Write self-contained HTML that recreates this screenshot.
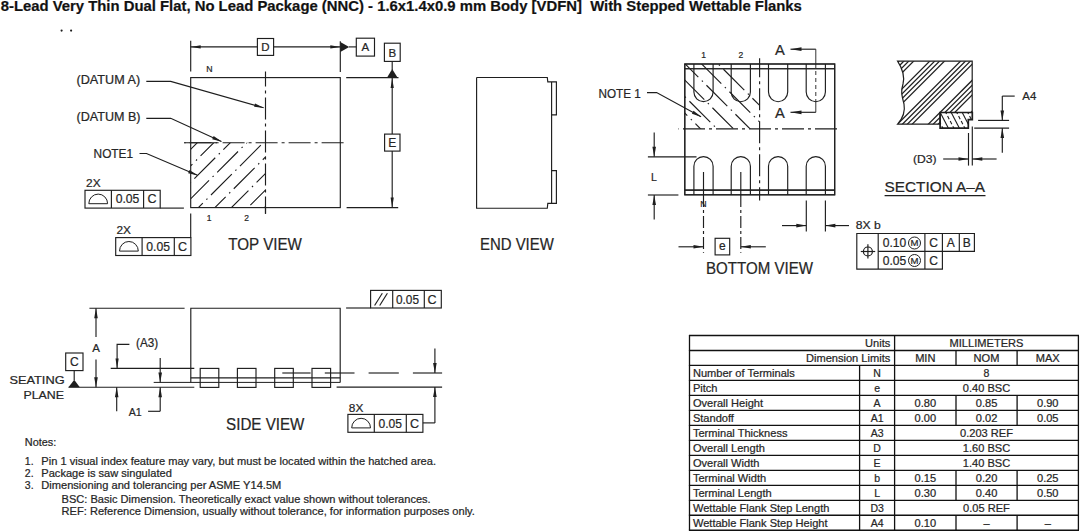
<!DOCTYPE html>
<html><head><meta charset="utf-8"><style>
html,body{margin:0;padding:0;background:#fff;}
svg{display:block;font-family:"Liberation Sans",sans-serif;}
text{stroke:#262626;stroke-width:0.22px;}
</style></head><body>
<svg width="1080" height="531" viewBox="0 0 1080 531">
<rect width="1080" height="531" fill="#fff"/>
<text x="0.7" y="11.1" font-size="14.5" textLength="801.2" lengthAdjust="spacingAndGlyphs" font-weight="bold" fill="#111">8-Lead Very Thin Dual Flat, No Lead Package (NNC) - 1.6x1.4x0.9 mm Body [VDFN]&#160; With Stepped Wettable Flanks</text>
<circle cx="61.6" cy="30.6" r="1.1" fill="#1e1e1e"/><circle cx="71.1" cy="30.6" r="1.1" fill="#1e1e1e"/>
<clipPath id="cTop"><rect x="190.7" y="142.7" width="74.80000000000001" height="64.9"/></clipPath>
<g clip-path="url(#cTop)" stroke="#1e1e1e" stroke-width="1.15" stroke-dasharray="29.5 5 1.5 5"><line x1="89.4" y1="217.6" x2="174.3" y2="132.7" stroke-dashoffset="21.53"/><line x1="105.9" y1="217.6" x2="190.8" y2="132.7" stroke-dashoffset="12.62"/><line x1="122.4" y1="217.6" x2="207.3" y2="132.7" stroke-dashoffset="3.71"/><line x1="138.9" y1="217.6" x2="223.8" y2="132.7" stroke-dashoffset="35.8"/><line x1="155.4" y1="217.6" x2="240.3" y2="132.7" stroke-dashoffset="26.89"/><line x1="171.9" y1="217.6" x2="256.8" y2="132.7" stroke-dashoffset="17.98"/><line x1="188.4" y1="217.6" x2="273.3" y2="132.7" stroke-dashoffset="9.08"/><line x1="204.9" y1="217.6" x2="289.8" y2="132.7" stroke-dashoffset="0.17"/><line x1="221.4" y1="217.6" x2="306.3" y2="132.7" stroke-dashoffset="32.26"/><line x1="237.9" y1="217.6" x2="322.8" y2="132.7" stroke-dashoffset="23.35"/><line x1="254.4" y1="217.6" x2="339.3" y2="132.7" stroke-dashoffset="14.44"/><line x1="270.9" y1="217.6" x2="355.8" y2="132.7" stroke-dashoffset="5.53"/><line x1="287.4" y1="217.6" x2="372.3" y2="132.7" stroke-dashoffset="37.62"/><line x1="303.9" y1="217.6" x2="388.8" y2="132.7" stroke-dashoffset="28.71"/></g>
<rect x="190.7" y="77.6" width="149.6" height="130" fill="none" stroke="#1e1e1e" stroke-width="1.15"/>
<line x1="265.5" y1="71.5" x2="265.5" y2="213.8" stroke="#1e1e1e" stroke-width="1.15" stroke-dasharray="22 4 3 4" stroke-dashoffset="7"/>
<line x1="184.2" y1="142.7" x2="346.6" y2="142.7" stroke="#1e1e1e" stroke-width="1.15" stroke-dasharray="22 4 3 4" stroke-dashoffset="27.6"/>
<line x1="184.2" y1="142.7" x2="217" y2="142.7" stroke="#1e1e1e" stroke-width="1.15"/>
<line x1="190.7" y1="40.7" x2="190.7" y2="71.6" stroke="#1e1e1e" stroke-width="1.15"/>
<line x1="340.3" y1="41.2" x2="340.3" y2="71.9" stroke="#1e1e1e" stroke-width="1.15"/>
<line x1="190.7" y1="46.9" x2="257.4" y2="46.9" stroke="#1e1e1e" stroke-width="1.15"/>
<polygon points="190.7,46.9 200.7,45.3 200.7,48.5" fill="#1e1e1e"/>
<line x1="273.6" y1="46.9" x2="340.3" y2="46.9" stroke="#1e1e1e" stroke-width="1.15"/>
<polygon points="340.3,46.9 330.3,48.5 330.3,45.3" fill="#1e1e1e"/>
<rect x="257.4" y="38.5" width="16.2" height="16.9" fill="none" stroke="#1e1e1e" stroke-width="1.15"/>
<text x="265.5" y="51.3" font-size="11.5" text-anchor="middle" fill="#262626">D</text>
<polygon points="340.3,41.9 349.2,46.9 340.3,51.9" fill="#1e1e1e"/>
<line x1="349" y1="46.9" x2="356.3" y2="46.9" stroke="#1e1e1e" stroke-width="1.15"/>
<rect x="356.3" y="38.2" width="18.2" height="17.9" fill="none" stroke="#1e1e1e" stroke-width="1.15"/>
<text x="365.4" y="51.4" font-size="11.5" text-anchor="middle" fill="#262626">A</text>
<rect x="384.4" y="43.2" width="15.8" height="18.2" fill="none" stroke="#1e1e1e" stroke-width="1.15"/>
<text x="392.3" y="56.6" font-size="11.5" text-anchor="middle" fill="#262626">B</text>
<line x1="392.2" y1="61.4" x2="392.2" y2="70" stroke="#1e1e1e" stroke-width="1.15"/>
<polygon points="387.1,77.6 392.2,68.9 397.5,77.6" fill="#1e1e1e"/>
<line x1="346.2" y1="77.6" x2="398.5" y2="77.6" stroke="#1e1e1e" stroke-width="1.15"/>
<line x1="346.6" y1="207.6" x2="398.2" y2="207.6" stroke="#1e1e1e" stroke-width="1.15"/>
<line x1="392.2" y1="77.6" x2="392.2" y2="134.1" stroke="#1e1e1e" stroke-width="1.15"/>
<polygon points="392.2,78.1 393.8,88.1 390.6,88.1" fill="#1e1e1e"/>
<line x1="392.2" y1="151.1" x2="392.2" y2="207.6" stroke="#1e1e1e" stroke-width="1.15"/>
<polygon points="392.2,207.6 390.6,197.6 393.8,197.6" fill="#1e1e1e"/>
<rect x="384.6" y="134.1" width="15.4" height="17" fill="none" stroke="#1e1e1e" stroke-width="1.15"/>
<text x="392.3" y="147.3" font-size="12" text-anchor="middle" fill="#262626">E</text>
<text x="76.5" y="84.4" font-size="12" textLength="63.6" lengthAdjust="spacingAndGlyphs" fill="#262626">(DATUM A)</text>
<polyline points="146.3,81.4 170.7,81.4 263.6,107.7" fill="none" stroke="#1e1e1e" stroke-width="1.15"/>
<polygon points="264.2,107.9 254.12,106.81 255.04,103.54" fill="#1e1e1e"/>
<text x="76.5" y="121.3" font-size="12" textLength="64" lengthAdjust="spacingAndGlyphs" fill="#262626">(DATUM B)</text>
<polyline points="146.3,118.3 170.7,118.3 221.4,141.5" fill="none" stroke="#1e1e1e" stroke-width="1.15"/>
<polygon points="222,141.8 212.2,139.18 213.62,136.09" fill="#1e1e1e"/>
<text x="93.6" y="157.6" font-size="12" textLength="39.5" lengthAdjust="spacingAndGlyphs" fill="#262626">NOTE1</text>
<polyline points="139.5,153.5 146.5,153.5 197.5,175.3" fill="none" stroke="#1e1e1e" stroke-width="1.15"/>
<polygon points="198,175.5 188.14,173.13 189.47,170.01" fill="#1e1e1e"/>
<text x="206.2" y="71.8" font-size="8.5" textLength="6.3" lengthAdjust="spacingAndGlyphs" fill="#262626">N</text>
<text x="209.2" y="220.6" font-size="8.5" text-anchor="middle" fill="#262626">1</text>
<text x="246.6" y="220.6" font-size="8.5" text-anchor="middle" fill="#262626">2</text>
<line x1="190.7" y1="213.5" x2="190.7" y2="237.6" stroke="#1e1e1e" stroke-width="1.15"/>
<line x1="265.5" y1="207.6" x2="265.5" y2="213.8" stroke="#1e1e1e" stroke-width="1.15"/>
<rect x="85" y="190.3" width="75.2" height="17.8" fill="none" stroke="#1e1e1e" stroke-width="1.15"/>
<line x1="111.4" y1="190.3" x2="111.4" y2="208.1" stroke="#1e1e1e" stroke-width="1.15"/>
<line x1="143.6" y1="190.3" x2="143.6" y2="208.1" stroke="#1e1e1e" stroke-width="1.15"/>
<path d="M88.8,203.7 A9.4,9.6 0 0 1 107.6,203.7 Z" fill="none" stroke="#1e1e1e" stroke-width="1"/>
<text x="127.5" y="203.4" font-size="12.5" text-anchor="middle" textLength="23.7" lengthAdjust="spacingAndGlyphs" fill="#262626">0.05</text>
<text x="151.9" y="203.4" font-size="12.5" text-anchor="middle" fill="#262626">C</text>
<text x="86.1" y="187.2" font-size="11.5" textLength="14.5" lengthAdjust="spacingAndGlyphs" fill="#262626">2X</text>
<line x1="160.2" y1="208.1" x2="183.9" y2="208.1" stroke="#1e1e1e" stroke-width="1.15"/>
<rect x="115.7" y="237.6" width="75.2" height="17.9" fill="none" stroke="#1e1e1e" stroke-width="1.15"/>
<line x1="142.1" y1="237.6" x2="142.1" y2="255.5" stroke="#1e1e1e" stroke-width="1.15"/>
<line x1="174.3" y1="237.6" x2="174.3" y2="255.5" stroke="#1e1e1e" stroke-width="1.15"/>
<path d="M119.5,251.1 A9.4,9.6 0 0 1 138.3,251.1 Z" fill="none" stroke="#1e1e1e" stroke-width="1"/>
<text x="158.2" y="250.8" font-size="12.5" text-anchor="middle" textLength="23.7" lengthAdjust="spacingAndGlyphs" fill="#262626">0.05</text>
<text x="182.6" y="250.8" font-size="12.5" text-anchor="middle" fill="#262626">C</text>
<text x="116.5" y="234.4" font-size="11.5" textLength="14.5" lengthAdjust="spacingAndGlyphs" fill="#262626">2X</text>
<text x="228.3" y="249.9" font-size="16" textLength="73.6" lengthAdjust="spacingAndGlyphs" fill="#262626">TOP VIEW</text>
<polyline points="476.6,77.5 547.3,77.5 547.8,81.9 556.4,81.9 556.4,114.8 551.6,114.8" fill="none" stroke="#1e1e1e" stroke-width="1.15"/>
<polyline points="551.6,170.6 556.4,170.6 556.4,203.4 547.8,203.4 547.3,208.2 476.6,208.2 476.6,77.5" fill="none" stroke="#1e1e1e" stroke-width="1.15"/>
<line x1="551.6" y1="81.9" x2="551.6" y2="203.4" stroke="#1e1e1e" stroke-width="1.15"/>
<text x="480" y="249.9" font-size="16" textLength="73.8" lengthAdjust="spacingAndGlyphs" fill="#262626">END VIEW</text>
<clipPath id="cBot"><rect x="684.8" y="64.0" width="74.80000000000007" height="64.80000000000001"/></clipPath>
<g clip-path="url(#cBot)" stroke="#1e1e1e" stroke-width="1.15" stroke-dasharray="29.5 5 1.5 5"><line x1="493.7" y1="54" x2="578.5" y2="138.8" stroke-dashoffset="15.95"/><line x1="510.2" y1="54" x2="595" y2="138.8" stroke-dashoffset="6.76"/><line x1="526.7" y1="54" x2="611.5" y2="138.8" stroke-dashoffset="38.56"/><line x1="543.2" y1="54" x2="628" y2="138.8" stroke-dashoffset="29.37"/><line x1="559.7" y1="54" x2="644.5" y2="138.8" stroke-dashoffset="20.18"/><line x1="576.2" y1="54" x2="661" y2="138.8" stroke-dashoffset="10.99"/><line x1="592.7" y1="54" x2="677.5" y2="138.8" stroke-dashoffset="1.79"/><line x1="609.2" y1="54" x2="694" y2="138.8" stroke-dashoffset="33.6"/><line x1="625.7" y1="54" x2="710.5" y2="138.8" stroke-dashoffset="24.41"/><line x1="642.2" y1="54" x2="727" y2="138.8" stroke-dashoffset="15.22"/><line x1="658.7" y1="54" x2="743.5" y2="138.8" stroke-dashoffset="6.02"/><line x1="675.2" y1="54" x2="760" y2="138.8" stroke-dashoffset="37.83"/><line x1="691.7" y1="54" x2="776.5" y2="138.8" stroke-dashoffset="28.64"/><line x1="708.2" y1="54" x2="793" y2="138.8" stroke-dashoffset="19.45"/></g>
<rect x="684.8" y="64" width="149.9" height="130.8" fill="none" stroke="#1e1e1e" stroke-width="1.15"/>
<line x1="684.8" y1="68.7" x2="834.7" y2="68.7" stroke="#1e1e1e" stroke-width="1.15"/>
<line x1="684.8" y1="190.1" x2="834.7" y2="190.1" stroke="#1e1e1e" stroke-width="1.15"/>
<path d="M693.9,64 V92.1 A9.6,9.6 0 0 0 713.1,92.1 V64" fill="none" stroke="#1e1e1e" stroke-width="1.15"/>
<path d="M693.9,194.8 V166.2 A9.6,9.6 0 0 1 713.1,166.2 V194.8" fill="none" stroke="#1e1e1e" stroke-width="1.15"/>
<path d="M731.2,64 V92.1 A9.6,9.6 0 0 0 750.4,92.1 V64" fill="none" stroke="#1e1e1e" stroke-width="1.15"/>
<path d="M731.2,194.8 V166.2 A9.6,9.6 0 0 1 750.4,166.2 V194.8" fill="none" stroke="#1e1e1e" stroke-width="1.15"/>
<path d="M768.5,64 V92.1 A9.6,9.6 0 0 0 787.7,92.1 V64" fill="none" stroke="#1e1e1e" stroke-width="1.15"/>
<path d="M768.5,194.8 V166.2 A9.6,9.6 0 0 1 787.7,166.2 V194.8" fill="none" stroke="#1e1e1e" stroke-width="1.15"/>
<path d="M806.2,64 V92.1 A9.6,9.6 0 0 0 825.4,92.1 V64" fill="none" stroke="#1e1e1e" stroke-width="1.15"/>
<path d="M806.2,194.8 V166.2 A9.6,9.6 0 0 1 825.4,166.2 V194.8" fill="none" stroke="#1e1e1e" stroke-width="1.15"/>
<line x1="684.8" y1="68.7" x2="834.7" y2="68.7" stroke="#1e1e1e" stroke-width="1.15"/>
<line x1="684.8" y1="190.1" x2="834.7" y2="190.1" stroke="#1e1e1e" stroke-width="1.15"/>
<rect x="684.8" y="64" width="149.9" height="130.8" fill="none" stroke="#1e1e1e" stroke-width="1.15"/>
<line x1="759.6" y1="58.2" x2="759.6" y2="200.4" stroke="#1e1e1e" stroke-width="1.15" stroke-dasharray="22 4 3 4" stroke-dashoffset="3"/>
<line x1="678.5" y1="128.8" x2="840.8" y2="128.8" stroke="#1e1e1e" stroke-width="1.15" stroke-dasharray="22 4 3 4" stroke-dashoffset="28.5"/>
<text x="703.5" y="58.2" font-size="8.5" text-anchor="middle" fill="#262626">1</text>
<text x="740.8" y="58.2" font-size="8.5" text-anchor="middle" fill="#262626">2</text>
<line x1="815.8" y1="49.2" x2="815.8" y2="64" stroke="#1e1e1e" stroke-width="0.9"/>
<line x1="815.8" y1="64" x2="815.8" y2="101" stroke="#1e1e1e" stroke-width="0.9" stroke-dasharray="4 3" stroke-dashoffset="0"/>
<line x1="815.8" y1="101" x2="815.8" y2="112.3" stroke="#1e1e1e" stroke-width="0.9"/>
<line x1="815.8" y1="49.2" x2="790.5" y2="49.2" stroke="#1e1e1e" stroke-width="1.15"/>
<polygon points="790.5,49.2 801.5,47.3 801.5,51.1" fill="#1e1e1e"/>
<line x1="815.8" y1="112.3" x2="790.5" y2="112.3" stroke="#1e1e1e" stroke-width="1.15"/>
<polygon points="790.5,112.3 801.5,110.4 801.5,114.2" fill="#1e1e1e"/>
<text x="779.8" y="55.4" font-size="14.7" text-anchor="middle" fill="#262626">A</text>
<text x="779.8" y="117.5" font-size="14.7" text-anchor="middle" fill="#262626">A</text>
<text x="598.5" y="97.5" font-size="12.3" textLength="42.3" lengthAdjust="spacingAndGlyphs" fill="#262626">NOTE 1</text>
<polyline points="647,92.6 656.6,92.6 701,116.8" fill="none" stroke="#1e1e1e" stroke-width="1.15"/>
<polygon points="701.5,117.1 691.91,113.8 693.54,110.82" fill="#1e1e1e"/>
<line x1="647.9" y1="156.8" x2="696.5" y2="156.8" stroke="#1e1e1e" stroke-width="1.15"/>
<line x1="647.9" y1="195" x2="678.4" y2="195" stroke="#1e1e1e" stroke-width="1.15"/>
<line x1="654.2" y1="132.5" x2="654.2" y2="156.8" stroke="#1e1e1e" stroke-width="1.15"/>
<polygon points="654.2,156.8 652.4,146.8 656,146.8" fill="#1e1e1e"/>
<line x1="654.2" y1="219.6" x2="654.2" y2="195" stroke="#1e1e1e" stroke-width="1.15"/>
<polygon points="654.2,195 656,205 652.4,205" fill="#1e1e1e"/>
<text x="654" y="180.5" font-size="10.5" text-anchor="middle" fill="#262626">L</text>
<line x1="703.5" y1="172" x2="703.5" y2="195" stroke="#1e1e1e" stroke-width="1.15"/>
<line x1="703.5" y1="195" x2="703.5" y2="252.7" stroke="#1e1e1e" stroke-width="1.15" stroke-dasharray="12 3 3 3" stroke-dashoffset="0"/>
<line x1="740.8" y1="172" x2="740.8" y2="195" stroke="#1e1e1e" stroke-width="1.15"/>
<line x1="740.8" y1="195" x2="740.8" y2="252.7" stroke="#1e1e1e" stroke-width="1.15" stroke-dasharray="12 3 3 3" stroke-dashoffset="0"/>
<text x="703.5" y="207.2" font-size="8.5" text-anchor="middle" textLength="6.3" lengthAdjust="spacingAndGlyphs" fill="#262626">N</text>
<line x1="678.5" y1="246.8" x2="703.5" y2="246.8" stroke="#1e1e1e" stroke-width="1.15"/>
<polygon points="703.5,246.8 693.5,248.6 693.5,245" fill="#1e1e1e"/>
<line x1="765.8" y1="246.8" x2="740.8" y2="246.8" stroke="#1e1e1e" stroke-width="1.15"/>
<polygon points="740.8,246.8 750.8,245 750.8,248.6" fill="#1e1e1e"/>
<rect x="715.1" y="238.3" width="14.6" height="16.6" fill="none" stroke="#1e1e1e" stroke-width="1.15"/>
<text x="722.4" y="250.3" font-size="12" text-anchor="middle" fill="#262626">e</text>
<line x1="806.3" y1="200.4" x2="806.3" y2="231.5" stroke="#1e1e1e" stroke-width="1.15"/>
<line x1="825.4" y1="200.4" x2="825.4" y2="231.5" stroke="#1e1e1e" stroke-width="1.15"/>
<line x1="782" y1="225.6" x2="806.3" y2="225.6" stroke="#1e1e1e" stroke-width="1.15"/>
<polygon points="806.3,225.6 796.3,227.4 796.3,223.8" fill="#1e1e1e"/>
<line x1="849" y1="225.6" x2="825.4" y2="225.6" stroke="#1e1e1e" stroke-width="1.15"/>
<polygon points="825.4,225.6 835.4,223.8 835.4,227.4" fill="#1e1e1e"/>
<text x="855.8" y="229" font-size="11.5" textLength="25" lengthAdjust="spacingAndGlyphs" fill="#262626">8X b</text>
<polygon points="856.8,233.5 974.4,233.5 974.4,251.4 942.4,251.4 942.4,269.1 856.8,269.1" fill="none" stroke="#1e1e1e" stroke-width="1.15"/>
<line x1="878.2" y1="251.4" x2="942.4" y2="251.4" stroke="#1e1e1e" stroke-width="1.15"/>
<line x1="878.2" y1="233.5" x2="878.2" y2="269.1" stroke="#1e1e1e" stroke-width="1.15"/>
<line x1="924.9" y1="233.5" x2="924.9" y2="251.4" stroke="#1e1e1e" stroke-width="1.15"/>
<line x1="942.4" y1="233.5" x2="942.4" y2="251.4" stroke="#1e1e1e" stroke-width="1.15"/>
<line x1="959.3" y1="233.5" x2="959.3" y2="251.4" stroke="#1e1e1e" stroke-width="1.15"/>
<line x1="924.9" y1="251.4" x2="924.9" y2="269.1" stroke="#1e1e1e" stroke-width="1.15"/>
<circle cx="867.9" cy="251.5" r="4.5" fill="none" stroke="#1e1e1e" stroke-width="1.2"/>
<line x1="860.8" y1="251.5" x2="875.2" y2="251.5" stroke="#1e1e1e" stroke-width="1.2"/>
<line x1="867.9" y1="244.3" x2="867.9" y2="258.4" stroke="#1e1e1e" stroke-width="1.2"/>
<text x="882.7" y="247" font-size="12" textLength="23.5" lengthAdjust="spacingAndGlyphs" fill="#262626">0.10</text>
<circle cx="914.5" cy="243" r="6.0" fill="none" stroke="#1e1e1e" stroke-width="1.0"/>
<text x="914.5" y="246.4" font-size="9.8" text-anchor="middle" textLength="8" lengthAdjust="spacingAndGlyphs" fill="#262626">M</text>
<text x="933.6" y="247" font-size="12" text-anchor="middle" fill="#262626">C</text>
<text x="882.7" y="264.5" font-size="12" textLength="23.5" lengthAdjust="spacingAndGlyphs" fill="#262626">0.05</text>
<circle cx="914.5" cy="260.5" r="6.0" fill="none" stroke="#1e1e1e" stroke-width="1.0"/>
<text x="914.5" y="263.9" font-size="9.8" text-anchor="middle" textLength="8" lengthAdjust="spacingAndGlyphs" fill="#262626">M</text>
<text x="933.6" y="264.5" font-size="12" text-anchor="middle" fill="#262626">C</text>
<text x="950.8" y="247" font-size="12" text-anchor="middle" fill="#262626">A</text>
<text x="966.8" y="247" font-size="12" text-anchor="middle" fill="#262626">B</text>
<text x="706" y="273.7" font-size="16" textLength="107" lengthAdjust="spacingAndGlyphs" fill="#262626">BOTTOM VIEW</text>
<clipPath id="cSec"><path d="M897.6,61.2 H972.2 V112.5 H940.1 V124.2 H897.6 C903,118 905.5,112 904,104 C902,96 900.5,92 903,84 C905,76 902,68 897.6,61.2 Z"/></clipPath>
<g clip-path="url(#cSec)" stroke="#1e1e1e" stroke-width="1.25"><line x1="768.5" y1="130" x2="843.5" y2="55"/><line x1="773.4" y1="130" x2="848.4" y2="55"/><line x1="778.3" y1="130" x2="853.3" y2="55"/><line x1="783.2" y1="130" x2="858.2" y2="55"/><line x1="799.3" y1="130" x2="874.3" y2="55"/><line x1="804.2" y1="130" x2="879.2" y2="55"/><line x1="809.1" y1="130" x2="884.1" y2="55"/><line x1="814" y1="130" x2="889" y2="55"/><line x1="830.1" y1="130" x2="905.1" y2="55"/><line x1="835" y1="130" x2="910" y2="55"/><line x1="839.9" y1="130" x2="914.9" y2="55"/><line x1="844.8" y1="130" x2="919.8" y2="55"/><line x1="860.9" y1="130" x2="935.9" y2="55"/><line x1="865.8" y1="130" x2="940.8" y2="55"/><line x1="870.7" y1="130" x2="945.7" y2="55"/><line x1="875.6" y1="130" x2="950.6" y2="55"/><line x1="891.7" y1="130" x2="966.7" y2="55"/><line x1="896.6" y1="130" x2="971.6" y2="55"/><line x1="901.5" y1="130" x2="976.5" y2="55"/><line x1="906.4" y1="130" x2="981.4" y2="55"/><line x1="922.5" y1="130" x2="997.5" y2="55"/><line x1="927.4" y1="130" x2="1002.4" y2="55"/><line x1="932.3" y1="130" x2="1007.3" y2="55"/><line x1="937.2" y1="130" x2="1012.2" y2="55"/><line x1="953.3" y1="130" x2="1028.3" y2="55"/><line x1="958.2" y1="130" x2="1033.2" y2="55"/><line x1="963.1" y1="130" x2="1038.1" y2="55"/><line x1="968" y1="130" x2="1043" y2="55"/><line x1="984.1" y1="130" x2="1059.1" y2="55"/><line x1="989" y1="130" x2="1064" y2="55"/><line x1="993.9" y1="130" x2="1068.9" y2="55"/><line x1="998.8" y1="130" x2="1073.8" y2="55"/><line x1="1014.9" y1="130" x2="1089.9" y2="55"/><line x1="1019.8" y1="130" x2="1094.8" y2="55"/><line x1="1024.7" y1="130" x2="1099.7" y2="55"/><line x1="1029.6" y1="130" x2="1104.6" y2="55"/></g>
<path d="M897.6,61.2 H972.2 V112.5 H940.1 V124.2 H897.6 C903,118 905.5,112 904,104 C902,96 900.5,92 903,84 C905,76 902,68 897.6,61.2 Z" fill="none" stroke="#1e1e1e" stroke-width="1.2"/>
<clipPath id="cLead"><path d="M940.1,112.5 H972.3 V119.6 H968.3 V128.2 H940.1 Z"/></clipPath>
<g clip-path="url(#cLead)" stroke="#1e1e1e" stroke-width="1.1"><line x1="922.96" y1="111" x2="933.33" y2="131" stroke-dasharray="3.5 2.2"/><line x1="928.46" y1="111" x2="938.83" y2="131"/><line x1="933.96" y1="111" x2="944.33" y2="131" stroke-dasharray="3.5 2.2"/><line x1="939.46" y1="111" x2="949.83" y2="131"/><line x1="944.96" y1="111" x2="955.33" y2="131" stroke-dasharray="3.5 2.2"/><line x1="950.46" y1="111" x2="960.83" y2="131"/><line x1="955.96" y1="111" x2="966.33" y2="131" stroke-dasharray="3.5 2.2"/><line x1="961.46" y1="111" x2="971.83" y2="131"/><line x1="966.96" y1="111" x2="977.33" y2="131" stroke-dasharray="3.5 2.2"/><line x1="972.46" y1="111" x2="982.83" y2="131"/><line x1="977.96" y1="111" x2="988.33" y2="131" stroke-dasharray="3.5 2.2"/><line x1="983.46" y1="111" x2="993.83" y2="131"/></g>
<path d="M940.1,112.5 H972.3 V119.6 H968.3 V128.2 H940.1 Z" fill="none" stroke="#1e1e1e" stroke-width="1.7"/>
<line x1="978.1" y1="120.4" x2="1009.1" y2="120.4" stroke="#1e1e1e" stroke-width="1.15"/>
<line x1="974.2" y1="128.1" x2="1009.1" y2="128.1" stroke="#1e1e1e" stroke-width="1.15"/>
<line x1="1002.3" y1="96.1" x2="1002.3" y2="120.4" stroke="#1e1e1e" stroke-width="1.15"/>
<polygon points="1002.3,120.4 1000.5,110.4 1004.1,110.4" fill="#1e1e1e"/>
<line x1="1002.3" y1="152.7" x2="1002.3" y2="128.1" stroke="#1e1e1e" stroke-width="1.15"/>
<polygon points="1002.3,128.1 1004.1,138.1 1000.5,138.1" fill="#1e1e1e"/>
<line x1="1002.3" y1="96.1" x2="1014.7" y2="96.1" stroke="#1e1e1e" stroke-width="1.15"/>
<text x="1022.3" y="100.4" font-size="11" textLength="14" lengthAdjust="spacingAndGlyphs" fill="#262626">A4</text>
<line x1="968.5" y1="133" x2="968.5" y2="165.6" stroke="#1e1e1e" stroke-width="1.15"/>
<line x1="972.3" y1="126.4" x2="972.3" y2="165.6" stroke="#1e1e1e" stroke-width="1.15"/>
<line x1="943.2" y1="159" x2="968.5" y2="159" stroke="#1e1e1e" stroke-width="1.15"/>
<polygon points="968.5,159 958.5,160.8 958.5,157.2" fill="#1e1e1e"/>
<line x1="996.6" y1="159" x2="972.3" y2="159" stroke="#1e1e1e" stroke-width="1.15"/>
<polygon points="972.3,159 982.3,157.2 982.3,160.8" fill="#1e1e1e"/>
<text x="913" y="163" font-size="11.5" textLength="23.6" lengthAdjust="spacingAndGlyphs" fill="#262626">(D3)</text>
<text x="884.6" y="192" font-size="14" textLength="100.5" lengthAdjust="spacingAndGlyphs" fill="#262626">SECTION A&#8211;A</text>
<line x1="884.6" y1="195.6" x2="985.5" y2="195.6" stroke="#1e1e1e" stroke-width="1.2"/>
<polyline points="190.8,382.4 190.8,308.2 340.2,308.2 340.2,382.4" fill="none" stroke="#1e1e1e" stroke-width="1.15"/>
<line x1="190.8" y1="377.9" x2="340.2" y2="377.9" stroke="#1e1e1e" stroke-width="1.15"/>
<line x1="153.7" y1="382.4" x2="340.2" y2="382.4" stroke="#1e1e1e" stroke-width="1.0"/>
<rect x="200.2" y="368.4" width="18.6" height="19" fill="none" stroke="#1e1e1e" stroke-width="1.15"/>
<rect x="237.4" y="368.4" width="18.6" height="19" fill="none" stroke="#1e1e1e" stroke-width="1.15"/>
<rect x="274.7" y="368.4" width="18.6" height="19" fill="none" stroke="#1e1e1e" stroke-width="1.15"/>
<rect x="312" y="368.4" width="18.6" height="19" fill="none" stroke="#1e1e1e" stroke-width="1.15"/>
<line x1="282.3" y1="373" x2="310.6" y2="373" stroke="#1e1e1e" stroke-width="1.15"/>
<line x1="324.8" y1="373" x2="354.5" y2="373" stroke="#1e1e1e" stroke-width="1.15"/>
<line x1="368.6" y1="373" x2="398.8" y2="373" stroke="#1e1e1e" stroke-width="1.15"/>
<line x1="412.9" y1="373" x2="442.1" y2="373" stroke="#1e1e1e" stroke-width="1.15"/>
<line x1="110.7" y1="368.4" x2="194.3" y2="368.4" stroke="#1e1e1e" stroke-width="1.15"/>
<line x1="68.5" y1="387.3" x2="194.3" y2="387.3" stroke="#1e1e1e" stroke-width="1.1"/>
<line x1="89.4" y1="308.2" x2="184.6" y2="308.2" stroke="#1e1e1e" stroke-width="1.15"/>
<line x1="96" y1="337" x2="96" y2="308.2" stroke="#1e1e1e" stroke-width="1.15"/>
<polygon points="96,308.2 97.8,318.2 94.2,318.2" fill="#1e1e1e"/>
<line x1="96" y1="359.4" x2="96" y2="387.3" stroke="#1e1e1e" stroke-width="1.15"/>
<polygon points="96,387.3 94.2,377.3 97.8,377.3" fill="#1e1e1e"/>
<text x="96" y="351.5" font-size="11.5" text-anchor="middle" fill="#262626">A</text>
<text x="136.1" y="346.8" font-size="12" textLength="22.1" lengthAdjust="spacingAndGlyphs" fill="#262626">(A3)</text>
<polyline points="129.4,344.4 117.1,344.4 117.1,368.4" fill="none" stroke="#1e1e1e" stroke-width="1.15"/>
<polygon points="117.1,368.4 115.5,358.4 118.7,358.4" fill="#1e1e1e"/>
<line x1="160.2" y1="358.1" x2="160.2" y2="382.4" stroke="#1e1e1e" stroke-width="1.15"/>
<polygon points="160.2,382.4 158.4,372.4 162,372.4" fill="#1e1e1e"/>
<line x1="116.7" y1="411.3" x2="116.7" y2="387.3" stroke="#1e1e1e" stroke-width="1.15"/>
<polygon points="116.7,387.3 118.5,397.3 114.9,397.3" fill="#1e1e1e"/>
<line x1="160.2" y1="411.3" x2="160.2" y2="387.3" stroke="#1e1e1e" stroke-width="1.15"/>
<polygon points="160.2,387.3 162,397.3 158.4,397.3" fill="#1e1e1e"/>
<line x1="148.1" y1="411.3" x2="160.2" y2="411.3" stroke="#1e1e1e" stroke-width="1.15"/>
<text x="128.7" y="416" font-size="11.5" textLength="13" lengthAdjust="spacingAndGlyphs" fill="#262626">A1</text>
<rect x="65.7" y="353" width="17.3" height="17.6" fill="none" stroke="#1e1e1e" stroke-width="1.15"/>
<text x="74.35" y="366" font-size="12" text-anchor="middle" fill="#262626">C</text>
<line x1="74.2" y1="370.6" x2="74.2" y2="380" stroke="#1e1e1e" stroke-width="1.15"/>
<polygon points="68.5,387.3 74.2,379.8 79.8,387.3" fill="#1e1e1e"/>
<text x="9.4" y="384.4" font-size="11.5" textLength="55.2" lengthAdjust="spacingAndGlyphs" fill="#262626">SEATING</text>
<text x="23.4" y="398.9" font-size="11.5" textLength="40.6" lengthAdjust="spacingAndGlyphs" fill="#262626">PLANE</text>
<rect x="370.6" y="290.4" width="70.7" height="17.6" fill="none" stroke="#1e1e1e" stroke-width="1.15"/>
<line x1="392.7" y1="290.4" x2="392.7" y2="308" stroke="#1e1e1e" stroke-width="1.15"/>
<line x1="424.3" y1="290.4" x2="424.3" y2="308" stroke="#1e1e1e" stroke-width="1.15"/>
<line x1="374.6" y1="305.5" x2="382.3" y2="293.2" stroke="#1e1e1e" stroke-width="1.15"/>
<line x1="379.7" y1="305.5" x2="387.4" y2="293.2" stroke="#1e1e1e" stroke-width="1.15"/>
<text x="396" y="303.6" font-size="12.5" textLength="23" lengthAdjust="spacingAndGlyphs" fill="#262626">0.05</text>
<text x="432" y="303.6" font-size="12.5" text-anchor="middle" fill="#262626">C</text>
<line x1="346.1" y1="308" x2="370.6" y2="308" stroke="#1e1e1e" stroke-width="1.15"/>
<line x1="336.6" y1="387.1" x2="442.1" y2="387.1" stroke="#1e1e1e" stroke-width="1.15"/>
<line x1="434.9" y1="348.5" x2="434.9" y2="373" stroke="#1e1e1e" stroke-width="1.15"/>
<polygon points="434.9,373 433.1,363 436.7,363" fill="#1e1e1e"/>
<line x1="434.9" y1="422.9" x2="434.9" y2="387.1" stroke="#1e1e1e" stroke-width="1.15"/>
<polygon points="434.9,387.1 436.7,397.1 433.1,397.1" fill="#1e1e1e"/>
<line x1="422.9" y1="422.9" x2="434.9" y2="422.9" stroke="#1e1e1e" stroke-width="1.15"/>
<rect x="347.9" y="414.4" width="75" height="17.9" fill="none" stroke="#1e1e1e" stroke-width="1.15"/>
<line x1="374.3" y1="414.4" x2="374.3" y2="432.3" stroke="#1e1e1e" stroke-width="1.15"/>
<line x1="406.3" y1="414.4" x2="406.3" y2="432.3" stroke="#1e1e1e" stroke-width="1.15"/>
<path d="M351.7,427.9 A9.4,9.6 0 0 1 370.5,427.9 Z" fill="none" stroke="#1e1e1e" stroke-width="1"/>
<text x="390.3" y="427.6" font-size="12.5" text-anchor="middle" textLength="23.5" lengthAdjust="spacingAndGlyphs" fill="#262626">0.05</text>
<text x="414.6" y="427.6" font-size="12.5" text-anchor="middle" fill="#262626">C</text>
<text x="348.8" y="411.6" font-size="11.5" textLength="14.5" lengthAdjust="spacingAndGlyphs" fill="#262626">8X</text>
<text x="226.1" y="429.9" font-size="16" textLength="78.3" lengthAdjust="spacingAndGlyphs" fill="#262626">SIDE VIEW</text>
<text x="24.8" y="446.4" font-size="10.5" textLength="31.5" lengthAdjust="spacingAndGlyphs" fill="#262626">Notes:</text>
<text x="24.8" y="464.7" font-size="10.5" fill="#262626">1.</text>
<text x="41.3" y="464.7" font-size="10.5" textLength="394.7" lengthAdjust="spacingAndGlyphs" fill="#262626">Pin 1 visual index feature may vary, but must be located within the hatched area.</text>
<text x="24.8" y="476.9" font-size="10.5" fill="#262626">2.</text>
<text x="41.3" y="476.9" font-size="10.5" textLength="130.5" lengthAdjust="spacingAndGlyphs" fill="#262626">Package is saw singulated</text>
<text x="24.8" y="489.3" font-size="10.5" fill="#262626">3.</text>
<text x="41.3" y="489.3" font-size="10.5" textLength="240" lengthAdjust="spacingAndGlyphs" fill="#262626">Dimensioning and tolerancing per ASME Y14.5M</text>
<text x="61.6" y="502.5" font-size="10.5" textLength="369.1" lengthAdjust="spacingAndGlyphs" fill="#262626">BSC: Basic Dimension. Theoretically exact value shown without tolerances.</text>
<text x="61.6" y="514.7" font-size="10.5" textLength="413.3" lengthAdjust="spacingAndGlyphs" fill="#262626">REF: Reference Dimension, usually without tolerance, for information purposes only.</text>
<line x1="688.9" y1="335.5" x2="1079" y2="335.5" stroke="#111" stroke-width="1.3"/>
<line x1="688.9" y1="350.48" x2="1079" y2="350.48" stroke="#111" stroke-width="1.3"/>
<line x1="688.9" y1="365.46" x2="1079" y2="365.46" stroke="#111" stroke-width="1.3"/>
<line x1="688.9" y1="380.44" x2="1079" y2="380.44" stroke="#111" stroke-width="1.3"/>
<line x1="688.9" y1="395.42" x2="1079" y2="395.42" stroke="#111" stroke-width="1.3"/>
<line x1="688.9" y1="410.4" x2="1079" y2="410.4" stroke="#111" stroke-width="1.3"/>
<line x1="688.9" y1="425.38" x2="1079" y2="425.38" stroke="#111" stroke-width="1.3"/>
<line x1="688.9" y1="440.36" x2="1079" y2="440.36" stroke="#111" stroke-width="1.3"/>
<line x1="688.9" y1="455.34" x2="1079" y2="455.34" stroke="#111" stroke-width="1.3"/>
<line x1="688.9" y1="470.32" x2="1079" y2="470.32" stroke="#111" stroke-width="1.3"/>
<line x1="688.9" y1="485.3" x2="1079" y2="485.3" stroke="#111" stroke-width="1.3"/>
<line x1="688.9" y1="500.28" x2="1079" y2="500.28" stroke="#111" stroke-width="1.3"/>
<line x1="688.9" y1="515.26" x2="1079" y2="515.26" stroke="#111" stroke-width="1.3"/>
<line x1="688.9" y1="530.24" x2="1079" y2="530.24" stroke="#111" stroke-width="1.3"/>
<line x1="689.5" y1="335.5" x2="689.5" y2="530.24" stroke="#111" stroke-width="1.3"/>
<line x1="1078.4" y1="335.5" x2="1078.4" y2="530.24" stroke="#111" stroke-width="1.3"/>
<line x1="894.6" y1="335.5" x2="894.6" y2="530.24" stroke="#111" stroke-width="1.3"/>
<line x1="859.6" y1="365.46" x2="859.6" y2="530.24" stroke="#111" stroke-width="1.3"/>
<line x1="956" y1="350.48" x2="956" y2="365.46" stroke="#111" stroke-width="1.3"/>
<line x1="1017.1" y1="350.48" x2="1017.1" y2="365.46" stroke="#111" stroke-width="1.3"/>
<text x="890.3" y="346.9" font-size="10.5" text-anchor="end" textLength="25.24" lengthAdjust="spacingAndGlyphs" fill="#262626">Units</text>
<text x="986.5" y="346.9" font-size="10.5" text-anchor="middle" textLength="73.87" lengthAdjust="spacingAndGlyphs" fill="#262626">MILLIMETERS</text>
<text x="890.3" y="361.88" font-size="10.5" text-anchor="end" textLength="84.34" lengthAdjust="spacingAndGlyphs" fill="#262626">Dimension Limits</text>
<text x="925.3" y="361.88" font-size="10.5" text-anchor="middle" textLength="20.31" lengthAdjust="spacingAndGlyphs" fill="#262626">MIN</text>
<text x="986.55" y="361.88" font-size="10.5" text-anchor="middle" textLength="25.84" lengthAdjust="spacingAndGlyphs" fill="#262626">NOM</text>
<text x="1047.75" y="361.88" font-size="10.5" text-anchor="middle" textLength="24.01" lengthAdjust="spacingAndGlyphs" fill="#262626">MAX</text>
<text x="692.9" y="376.86" font-size="10.5" textLength="101.99" lengthAdjust="spacingAndGlyphs" fill="#262626">Number of Terminals</text>
<text x="877.1" y="376.86" font-size="10.5" text-anchor="middle" fill="#262626">N</text>
<text x="986.5" y="376.86" font-size="10.5" text-anchor="middle" fill="#262626">8</text>
<text x="692.9" y="391.84" font-size="10.5" textLength="24.63" lengthAdjust="spacingAndGlyphs" fill="#262626">Pitch</text>
<text x="877.1" y="391.84" font-size="10.5" text-anchor="middle" fill="#262626">e</text>
<text x="986.5" y="391.84" font-size="10.5" text-anchor="middle" textLength="47.42" lengthAdjust="spacingAndGlyphs" fill="#262626">0.40 BSC</text>
<text x="692.9" y="406.82" font-size="10.5" textLength="70.19" lengthAdjust="spacingAndGlyphs" fill="#262626">Overall Height</text>
<text x="877.1" y="406.82" font-size="10.5" text-anchor="middle" fill="#262626">A</text>
<line x1="956" y1="395.42" x2="956" y2="410.4" stroke="#111" stroke-width="1.3"/>
<line x1="1017.1" y1="395.42" x2="1017.1" y2="410.4" stroke="#111" stroke-width="1.3"/>
<text x="925.3" y="406.82" font-size="10.5" text-anchor="middle" textLength="21.56" lengthAdjust="spacingAndGlyphs" fill="#262626">0.80</text>
<text x="986.55" y="406.82" font-size="10.5" text-anchor="middle" textLength="21.56" lengthAdjust="spacingAndGlyphs" fill="#262626">0.85</text>
<text x="1047.75" y="406.82" font-size="10.5" text-anchor="middle" textLength="21.56" lengthAdjust="spacingAndGlyphs" fill="#262626">0.90</text>
<text x="692.9" y="421.8" font-size="10.5" textLength="41.07" lengthAdjust="spacingAndGlyphs" fill="#262626">Standoff</text>
<text x="877.1" y="421.8" font-size="10.5" text-anchor="middle" fill="#262626">A1</text>
<line x1="956" y1="410.4" x2="956" y2="425.38" stroke="#111" stroke-width="1.3"/>
<line x1="1017.1" y1="410.4" x2="1017.1" y2="425.38" stroke="#111" stroke-width="1.3"/>
<text x="925.3" y="421.8" font-size="10.5" text-anchor="middle" textLength="21.56" lengthAdjust="spacingAndGlyphs" fill="#262626">0.00</text>
<text x="986.55" y="421.8" font-size="10.5" text-anchor="middle" textLength="21.56" lengthAdjust="spacingAndGlyphs" fill="#262626">0.02</text>
<text x="1047.75" y="421.8" font-size="10.5" text-anchor="middle" textLength="21.56" lengthAdjust="spacingAndGlyphs" fill="#262626">0.05</text>
<text x="692.9" y="436.78" font-size="10.5" textLength="94.61" lengthAdjust="spacingAndGlyphs" fill="#262626">Terminal Thickness</text>
<text x="877.1" y="436.78" font-size="10.5" text-anchor="middle" fill="#262626">A3</text>
<text x="986.5" y="436.78" font-size="10.5" text-anchor="middle" textLength="52.95" lengthAdjust="spacingAndGlyphs" fill="#262626">0.203 REF</text>
<text x="692.9" y="451.76" font-size="10.5" textLength="72.05" lengthAdjust="spacingAndGlyphs" fill="#262626">Overall Length</text>
<text x="877.1" y="451.76" font-size="10.5" text-anchor="middle" fill="#262626">D</text>
<text x="986.5" y="451.76" font-size="10.5" text-anchor="middle" textLength="47.42" lengthAdjust="spacingAndGlyphs" fill="#262626">1.60 BSC</text>
<text x="692.9" y="466.74" font-size="10.5" textLength="66.48" lengthAdjust="spacingAndGlyphs" fill="#262626">Overall Width</text>
<text x="877.1" y="466.74" font-size="10.5" text-anchor="middle" fill="#262626">E</text>
<text x="986.5" y="466.74" font-size="10.5" text-anchor="middle" textLength="47.42" lengthAdjust="spacingAndGlyphs" fill="#262626">1.40 BSC</text>
<text x="692.9" y="481.72" font-size="10.5" textLength="73.26" lengthAdjust="spacingAndGlyphs" fill="#262626">Terminal Width</text>
<text x="877.1" y="481.72" font-size="10.5" text-anchor="middle" fill="#262626">b</text>
<line x1="956" y1="470.32" x2="956" y2="485.3" stroke="#111" stroke-width="1.3"/>
<line x1="1017.1" y1="470.32" x2="1017.1" y2="485.3" stroke="#111" stroke-width="1.3"/>
<text x="925.3" y="481.72" font-size="10.5" text-anchor="middle" textLength="21.56" lengthAdjust="spacingAndGlyphs" fill="#262626">0.15</text>
<text x="986.55" y="481.72" font-size="10.5" text-anchor="middle" textLength="21.56" lengthAdjust="spacingAndGlyphs" fill="#262626">0.20</text>
<text x="1047.75" y="481.72" font-size="10.5" text-anchor="middle" textLength="21.56" lengthAdjust="spacingAndGlyphs" fill="#262626">0.25</text>
<text x="692.9" y="496.7" font-size="10.5" textLength="78.82" lengthAdjust="spacingAndGlyphs" fill="#262626">Terminal Length</text>
<text x="877.1" y="496.7" font-size="10.5" text-anchor="middle" fill="#262626">L</text>
<line x1="956" y1="485.3" x2="956" y2="500.28" stroke="#111" stroke-width="1.3"/>
<line x1="1017.1" y1="485.3" x2="1017.1" y2="500.28" stroke="#111" stroke-width="1.3"/>
<text x="925.3" y="496.7" font-size="10.5" text-anchor="middle" textLength="21.56" lengthAdjust="spacingAndGlyphs" fill="#262626">0.30</text>
<text x="986.55" y="496.7" font-size="10.5" text-anchor="middle" textLength="21.56" lengthAdjust="spacingAndGlyphs" fill="#262626">0.40</text>
<text x="1047.75" y="496.7" font-size="10.5" text-anchor="middle" textLength="21.56" lengthAdjust="spacingAndGlyphs" fill="#262626">0.50</text>
<text x="692.9" y="511.68" font-size="10.5" textLength="136.51" lengthAdjust="spacingAndGlyphs" fill="#262626">Wettable Flank Step Length</text>
<text x="877.1" y="511.68" font-size="10.5" text-anchor="middle" fill="#262626">D3</text>
<text x="986.5" y="511.68" font-size="10.5" text-anchor="middle" textLength="46.79" lengthAdjust="spacingAndGlyphs" fill="#262626">0.05 REF</text>
<text x="692.9" y="526.66" font-size="10.5" textLength="134.65" lengthAdjust="spacingAndGlyphs" fill="#262626">Wettable Flank Step Height</text>
<text x="877.1" y="526.66" font-size="10.5" text-anchor="middle" fill="#262626">A4</text>
<line x1="956" y1="515.26" x2="956" y2="530.24" stroke="#111" stroke-width="1.3"/>
<line x1="1017.1" y1="515.26" x2="1017.1" y2="530.24" stroke="#111" stroke-width="1.3"/>
<text x="925.3" y="526.66" font-size="10.5" text-anchor="middle" textLength="21.56" lengthAdjust="spacingAndGlyphs" fill="#262626">0.10</text>
<text x="986.55" y="526.66" font-size="10.5" text-anchor="middle" textLength="6.16" lengthAdjust="spacingAndGlyphs" fill="#262626">&#8211;</text>
<text x="1047.75" y="526.66" font-size="10.5" text-anchor="middle" textLength="6.16" lengthAdjust="spacingAndGlyphs" fill="#262626">&#8211;</text>
</svg></body></html>
